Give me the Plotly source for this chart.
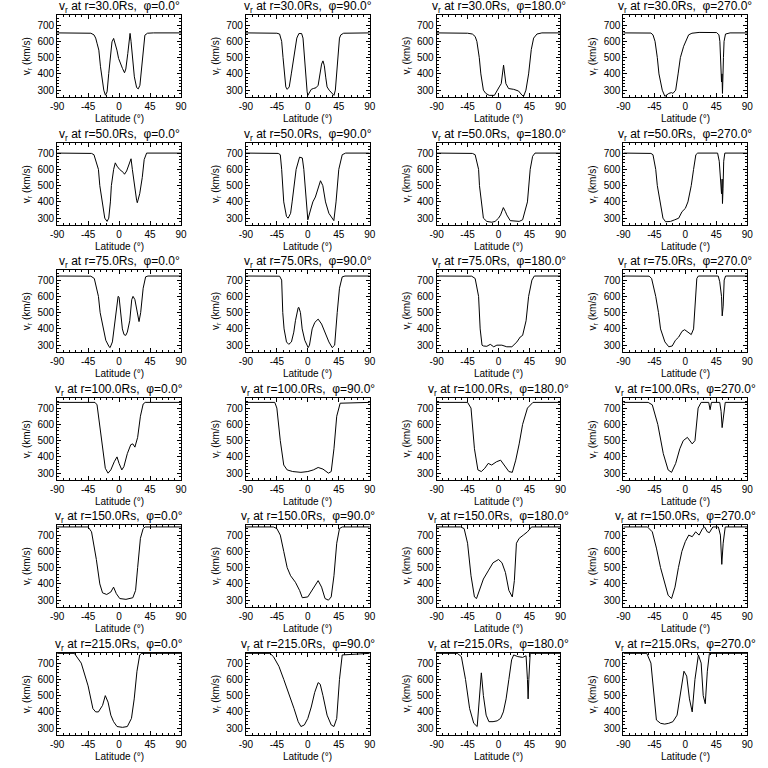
import plotly.graph_objects as go

# ---------------- data ----------------
radii = ["30.0", "50.0", "75.0", "100.0", "150.0", "215.0"]
phis = ["0.0", "90.0", "180.0", "270.0"]
x_ticks = [-90, -45, 0, 45, 90]
y_ticks = [300, 400, 500, 600, 700]

# r = 30 Rs
lat_r30_p0 = [-90, -50, -41, -36.5, -34, -31.8, -29.4, -27, -24.6, -22.2, -19.8, -17.4, -15, -12.7, -10.3, -7.9, -5.5, -3.1, -0.7, 1.7, 5, 7.9, 9.8, 12.7, 14.6, 16, 17.4, 19.3, 22.2, 25.5, 27.9, 30.3, 32.7, 35.1, 37.5, 41.3, 50, 90]
v_r30_p0 = [652, 651, 650, 640, 620, 585, 546, 444, 362, 300, 269, 290, 403, 526, 597, 618, 587, 546, 495, 464, 433, 407, 430, 526, 608, 649, 600, 500, 382, 316, 308, 330, 423, 546, 638, 650, 652, 652]

lat_r30_p90 = [-90, -45, -41, -38, -36, -34, -32, -30, -27, -24, -20, -16, -13, -9, -7, -5, -3, -1, 0, 2, 5, 8, 12, 15, 18, 20, 22, 24, 26, 28, 31, 35, 38, 40, 42, 44, 46, 48, 52, 90]
v_r30_p90 = [652, 650, 645, 600, 500, 400, 320, 305, 320, 400, 520, 620, 648, 648, 620, 500, 380, 290, 268, 280, 305, 310, 315, 330, 400, 460, 480, 450, 380, 320, 300, 280, 268, 300, 420, 550, 620, 640, 650, 652]

lat_r30_p180 = [-90, -45, -38, -34, -31.5, -28, -25.7, -22, -18.5, -13.6, -6, -2.4, 1, 3.9, 7.3, 10.7, 14.6, 22, 29, 34, 36.4, 39.8, 43.7, 47.6, 51, 55.8, 63, 90]
v_r30_p180 = [652, 650, 645, 630, 600, 500, 400, 300, 280, 268, 268, 300, 320, 340, 454, 340, 310, 305, 295, 270, 262, 300, 400, 550, 620, 645, 652, 652]

lat_r30_p270 = [-90, -50, -47, -44, -40.7, -38.3, -33.5, -29.7, -24, -20, -18, -14, -10.5, -7.2, -2.4, 1, 4.8, 9.6, 20, 45.5, 48.8, 50.2, 51.5, 52.6, 53.3, 54, 55.4, 56.3, 58.4, 65, 90]
v_r30_p270 = [652, 651, 640, 600, 500, 400, 300, 262, 280, 285, 280, 300, 400, 500, 570, 600, 640, 650, 655, 654, 640, 600, 420, 350, 400, 280, 500, 600, 645, 652, 652]

# r = 50 Rs
lat_r50_p0 = [-90, -45, -40, -36.5, -30, -28, -24.6, -20.8, -17.4, -15, -12.6, -11.2, -7.9, -5.5, -3, 0.7, 6.4, 7.9, 11, 16, 17.4, 19.3, 22, 25.5, 26.5, 30, 33.7, 36.5, 40, 90]
v_r50_p0 = [700, 700, 698, 690, 600, 500, 400, 300, 280, 300, 400, 500, 600, 640, 620, 600, 580, 570, 590, 640, 665, 600, 500, 410, 395, 450, 550, 660, 700, 700]

lat_r50_p90 = [-90, -45, -43, -40, -38, -35, -31, -28.6, -25, -22.8, -20.4, -17, -12, -8, -5.8, -2.4, 0, 3.9, 7.3, 11, 16, 18.4, 21.8, 25.7, 30.6, 35.4, 37.8, 41, 45, 50, 55, 90]
v_r50_p90 = [700, 700, 698, 690, 600, 400, 310, 300, 330, 400, 500, 600, 675, 670, 600, 400, 290, 350, 400, 430, 500, 530, 500, 400, 330, 300, 285, 400, 600, 690, 700, 700]

lat_r50_p180 = [-90, -42, -38, -34, -29, -27.7, -25, -22, -17, -9.7, -5, 0, 3, 7, 10, 12, 17, 24, 30, 35, 39, 42, 46, 49.5, 53, 90]
v_r50_p180 = [700, 700, 698, 690, 600, 500, 400, 300, 280, 275, 280, 300, 320, 365, 340, 320, 285, 280, 280, 290, 350, 400, 600, 680, 700, 700]

lat_r50_p270 = [-90, -53, -50, -47, -43, -40.7, -36.8, -32.5, -28.7, -21.5, -15.3, -9.6, -4.8, 0, 3.8, 8.6, 12, 15.3, 18, 46.9, 49.3, 52.6, 53.5, 54, 54.8, 55.8, 57.4, 90]
v_r50_p270 = [700, 700, 698, 690, 600, 500, 400, 300, 278, 280, 290, 300, 340, 360, 400, 500, 600, 690, 700, 700, 650, 450, 540, 390, 480, 650, 700, 700]

# r = 75 Rs
lat_r75_p0 = [-90, -45, -41, -36, -30, -27.5, -22.7, -19.3, -14.5, -13, -9.7, -7.2, -4.8, -1.4, 0, 2.4, 4.8, 7.2, 9.7, 12, 15.5, 18.4, 20.3, 23, 26.6, 29, 31.4, 35, 38.6, 42, 90]
v_r75_p0 = [725, 725, 724, 710, 600, 500, 400, 330, 290, 285, 320, 400, 500, 600, 595, 500, 400, 365, 360, 380, 450, 580, 600, 580, 500, 445, 500, 650, 720, 725, 725]

lat_r75_p90 = [-90, -45, -41, -38, -36.4, -34.5, -31, -27.7, -23.8, -20.4, -18, -14, -13, -10.7, -8.2, -4.4, 0.5, 2.4, 6.3, 10.2, 15, 20, 24.8, 30.6, 35.4, 39, 42.7, 46, 50, 54, 90]
v_r75_p90 = [725, 725, 724, 700, 500, 400, 320, 305, 320, 380, 450, 530, 532, 500, 400, 330, 285, 300, 400, 440, 460, 430, 380, 320, 285, 300, 500, 650, 720, 725, 725]

lat_r75_p180 = [-90, -42, -39, -34, -29, -26.7, -24, -22, -17, -12, -7, -2.4, 4.8, 12, 19.4, 26.7, 31.5, 35, 40, 43.7, 48.5, 52, 90]
v_r75_p180 = [725, 725, 724, 710, 600, 400, 300, 295, 293, 305, 290, 300, 300, 290, 290, 320, 350, 360, 450, 600, 700, 725, 725]

lat_r75_p270 = [-90, -55, -52.6, -49, -43, -39, -36, -29.7, -24, -19, -14.4, -9.6, -4.8, -1, 4.8, 8.6, 12, 15.3, 16.7, 19, 47.8, 50, 52.6, 53.6, 55, 56.5, 58.5, 90]
v_r75_p270 = [725, 725, 724, 710, 600, 500, 400, 320, 290, 295, 330, 350, 385, 395, 380, 365, 400, 600, 710, 725, 725, 690, 600, 480, 540, 700, 725, 725]

# r = 100 Rs
lat_r100_p0 = [-90, -35, -32, -28, -24, -20, -16, -12, -7, -3, 0, 4, 7, 12, 17, 20, 23, 27, 31, 35, 38, 90]
v_r100_p0 = [735, 735, 720, 600, 450, 330, 300, 320, 370, 400, 360, 320, 340, 420, 475, 480, 460, 520, 650, 725, 735, 735]

lat_r100_p90 = [-90, -48, -45, -40, -35, -30, -22, -10, 0, 8, 15, 22, 30, 34, 38, 42, 47, 90]
v_r100_p90 = [735, 735, 700, 500, 350, 320, 310, 305, 310, 320, 335, 325, 300, 310, 450, 650, 730, 735]

lat_r100_p180 = [-90, -45, -40, -35, -30, -25, -20, -15, -10, -3, 3, 10, 15, 20, 25, 30, 35, 42, 50, 90]
v_r100_p180 = [735, 735, 700, 450, 320, 310, 330, 360, 350, 370, 380, 340, 310, 305, 380, 480, 600, 700, 735, 735]

lat_r100_p270 = [-90, -54, -48, -40, -32, -25, -20, -14, -8, -3, 3, 10, 14, 18.6, 23, 34, 36, 38, 50, 52, 53.5, 55, 58, 90]
v_r100_p270 = [735, 735, 720, 600, 420, 320, 305, 360, 450, 500, 520, 480, 500, 700, 735, 735, 690, 735, 735, 680, 580, 640, 735, 735]

# r = 150 Rs
lat_r150_p0 = [-90, -45, -40, -33, -28, -24, -18, -12, -8, -4, 1, 10, 20, 24, 27, 31, 35, 38, 90]
v_r150_p0 = [750, 750, 720, 550, 400, 345, 335, 350, 380, 340, 310, 305, 315, 360, 500, 680, 740, 750, 750]

lat_r150_p90 = [-90, -50, -45, -40, -35, -30, -25, -18, -12, -8, 0, 6, 10, 15, 20, 25, 30, 34, 38, 42, 46, 50, 90]
v_r150_p90 = [750, 750, 740, 700, 600, 500, 450, 410, 360, 315, 320, 360, 390, 420, 380, 310, 300, 320, 450, 650, 740, 750, 750]

lat_r150_p180 = [-90, -55, -50, -45, -40, -35, -32, -28, -22, -15, -8, 0, 5, 10, 15, 20, 23, 26, 30, 36, 42, 48, 90]
v_r150_p180 = [750, 750, 740, 650, 450, 320, 310, 360, 430, 480, 530, 550, 530, 470, 360, 320, 420, 650, 680, 700, 720, 750, 750]

lat_r150_p270 = [-90, -55, -48, -42, -36, -30, -25, -20, -15, -10, -5, 0, 5, 10, 15, 20, 25, 28, 32, 35, 40, 48, 51, 53, 55, 58, 90]
v_r150_p270 = [750, 750, 720, 620, 500, 400, 330, 310, 380, 500, 600, 660, 700, 690, 720, 700, 740, 750, 720, 715, 750, 750, 700, 520, 650, 750, 750]

# r = 215 Rs
lat_r215_p0 = [-90, -65, -55, -45, -38, -34, -30, -24, -20, -16, -12, -8, -3, 5, 12, 18, 22, 26, 30, 33, 90]
v_r215_p0 = [760, 760, 700, 560, 420, 400, 400, 440, 500, 460, 380, 340, 310, 305, 310, 360, 480, 650, 750, 760, 760]

lat_r215_p90 = [-90, -55, -50, -42, -35, -28, -20, -14, -10, -5, 0, 5, 10, 15, 18, 22, 28, 34, 38, 42, 46, 50, 90]
v_r215_p90 = [760, 760, 740, 680, 600, 520, 420, 340, 310, 320, 360, 430, 520, 580, 570, 500, 380, 320, 310, 360, 600, 750, 760]

lat_r215_p180 = [-90, -60, -54, -48, -42, -36, -31, -28, -25, -22, -18, -14, -8, -2, 3, 7, 11, 15, 19, 22, 28, 35, 40, 42, 43, 44, 46, 90]
v_r215_p180 = [760, 760, 740, 600, 420, 330, 310, 450, 640, 500, 380, 340, 340, 345, 360, 400, 480, 600, 720, 750, 740, 735, 745, 600, 480, 600, 760, 760]

lat_r215_p270 = [-90, -56, -50, -45, -42, -36, -30, -24, -18, -12, -6, -2, 2, 6, 10, 14, 19, 23, 26, 29, 32, 35, 90]
v_r215_p270 = [760, 760, 700, 500, 350, 330, 325, 330, 340, 380, 550, 650, 620, 480, 400, 600, 750, 700, 500, 450, 650, 760, 760]

panels = [
    (lat_r30_p0, v_r30_p0), (lat_r30_p90, v_r30_p90), (lat_r30_p180, v_r30_p180), (lat_r30_p270, v_r30_p270),
    (lat_r50_p0, v_r50_p0), (lat_r50_p90, v_r50_p90), (lat_r50_p180, v_r50_p180), (lat_r50_p270, v_r50_p270),
    (lat_r75_p0, v_r75_p0), (lat_r75_p90, v_r75_p90), (lat_r75_p180, v_r75_p180), (lat_r75_p270, v_r75_p270),
    (lat_r100_p0, v_r100_p0), (lat_r100_p90, v_r100_p90), (lat_r100_p180, v_r100_p180), (lat_r100_p270, v_r100_p270),
    (lat_r150_p0, v_r150_p0), (lat_r150_p90, v_r150_p90), (lat_r150_p180, v_r150_p180), (lat_r150_p270, v_r150_p270),
    (lat_r215_p0, v_r215_p0), (lat_r215_p90, v_r215_p90), (lat_r215_p180, v_r215_p180), (lat_r215_p270, v_r215_p270),
]

# ---------------- layout ----------------
W = H = 768
col_left = [51, 243, 437, 627]
box_w = 126
row_top = [15, 143, 270, 398, 525, 653]
box_h = 82
FONT = "Liberation Sans"

fig = go.Figure()
annotations = []
layout = {}
for i, (lat, v) in enumerate(panels):
    r, c = divmod(i, 4)
    n = i + 1
    xs = "" if n == 1 else str(n)
    x0 = col_left[c] / W
    x1 = (col_left[c] + box_w) / W
    y1 = 1 - row_top[r] / H
    y0 = 1 - (row_top[r] + box_h) / H
    fig.add_trace(go.Scatter(x=lat, y=v, mode="lines", line=dict(color="black", width=1),
                             xaxis="x" + xs, yaxis="y" + xs, showlegend=False, hoverinfo="skip"))
    common = dict(showline=True, linecolor="black", linewidth=1, mirror="ticks", ticks="inside",
                  ticklen=4, tickcolor="black", showgrid=False, zeroline=False,
                  tickfont=dict(family=FONT, size=10, color="black"))
    layout["xaxis" + xs] = dict(domain=[x0, x1], anchor="y" + xs, range=[-90, 90],
                                tickvals=x_ticks, ticktext=[str(t) for t in x_ticks],
                                minor=dict(ticks="inside", ticklen=2, dtick=9, tick0=-90, tickcolor="black"),
                                **common)
    layout["yaxis" + xs] = dict(domain=[y0, y1], anchor="x" + xs, range=[258, 762],
                                tickvals=y_ticks, ticktext=[str(t) for t in y_ticks],
                                minor=dict(ticks="inside", ticklen=2, dtick=20, tick0=300, tickcolor="black"),
                                **common)
    annotations.append(dict(text=f"v<sub>r</sub> at r={radii[r]}Rs,  φ={phis[c]}°",
                            x=(x0 + x1) / 2, y=y1, xref="paper", yref="paper",
                            xanchor="center", yanchor="middle", yshift=8, showarrow=False,
                            font=dict(family=FONT, size=12, color="black")))
    annotations.append(dict(text="Latitude (°)", x=(x0 + x1) / 2, y=y0, xref="paper", yref="paper",
                            xanchor="center", yanchor="top", yshift=-14, showarrow=False,
                            font=dict(family=FONT, size=10, color="black")))
    annotations.append(dict(text="v<sub>r</sub> (km/s)", x=x0, y=(y0 + y1) / 2, xref="paper", yref="paper",
                            xanchor="right", yanchor="middle", xshift=-22, textangle=-90, showarrow=False,
                            font=dict(family=FONT, size=10, color="black")))

fig.update_layout(width=W, height=H, margin=dict(l=0, r=0, t=0, b=0),
                  paper_bgcolor="white", plot_bgcolor="white",
                  annotations=annotations, **layout)
fig.write_html("out.html", config={"displayModeBar": False},
               post_script="document.body.style.margin='0';document.body.style.overflow='hidden';")
